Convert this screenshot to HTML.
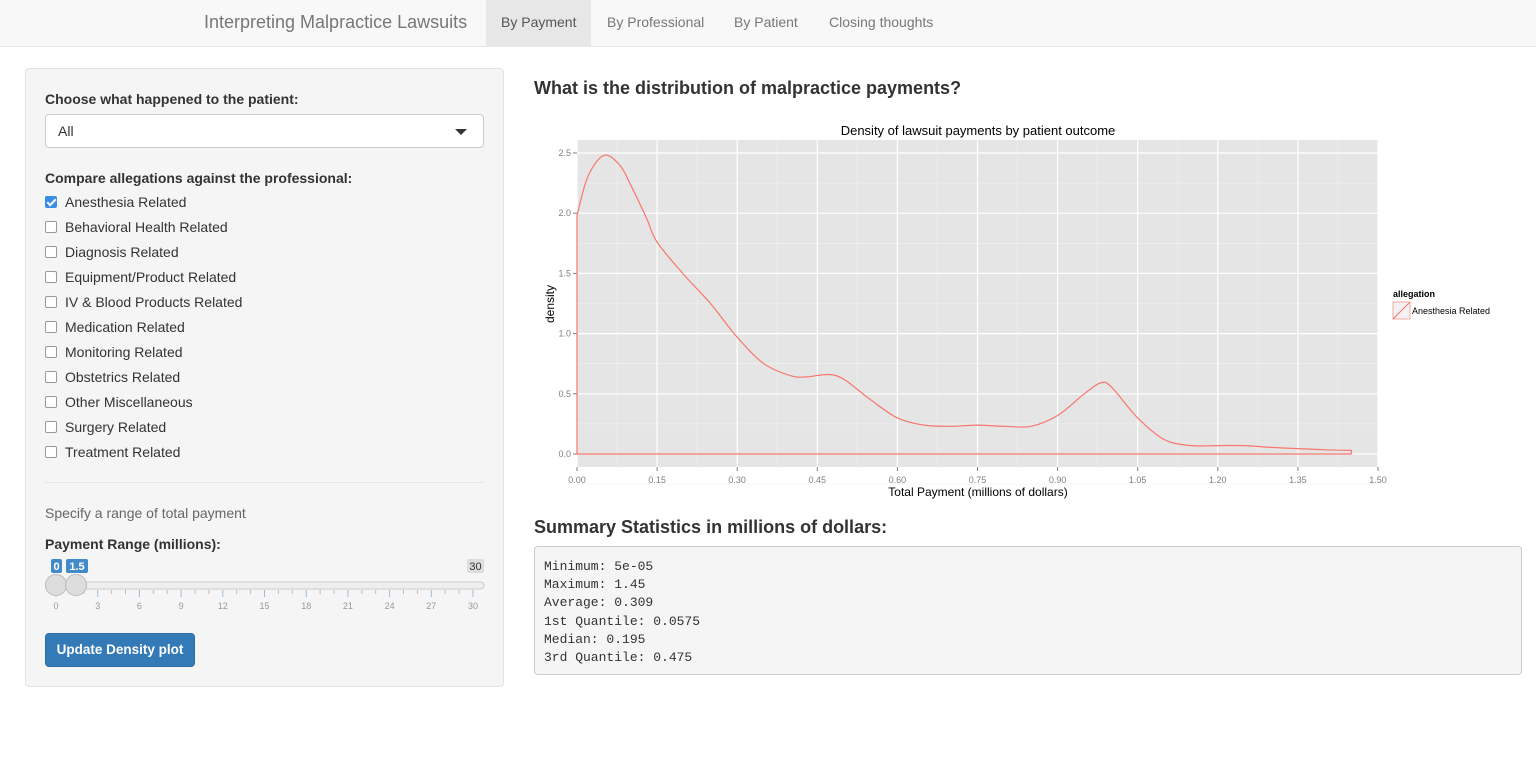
<!DOCTYPE html>
<html><head><meta charset="utf-8"><style>
*{box-sizing:border-box}
body{margin:0;width:1536px;height:779px;background:#fff;font-family:"Liberation Sans",sans-serif;color:#333;position:relative;overflow:hidden}
.nav{position:absolute;left:0;top:0;width:1536px;height:47px;background:#f8f8f8;border-bottom:1px solid #e7e7e7}
.nav .brand{position:absolute;left:204px;top:12px;font-size:18px;color:#777}
.nav .tab{position:absolute;top:0;height:47px;line-height:45px;font-size:14px;color:#777;padding:0 15px}
.nav .tab.active{background:#e7e7e7;color:#555}
.well{position:absolute;left:25px;top:68px;width:479px;height:619px;background:#f5f5f5;border:1px solid #e3e3e3;border-radius:4px}
.lbl{position:absolute;left:19px;font-size:14px;font-weight:bold;color:#333}
.sel{position:absolute;left:19px;top:45px;width:439px;height:34px;background:#fff;border:1px solid #ccc;border-radius:4px;font-size:14px;padding:8px 12px}
.sel:after{content:"";position:absolute;right:16px;top:14px;border-left:6px solid transparent;border-right:6px solid transparent;border-top:6px solid #333}
.cb{position:absolute;left:19px;font-size:14px;height:20px;line-height:20px}
.cb i{display:inline-block;width:12px;height:12px;border:1px solid #999;border-radius:2px;background:#fff;vertical-align:-1px;margin-right:8px}
.cb i.on{background:#3b8ee6;border-color:#3b8ee6;position:relative}
.cb i.on:after{content:"";position:absolute;left:3px;top:0px;width:3px;height:7px;border:solid #fff;border-width:0 2px 2px 0;transform:rotate(45deg)}
.btn{position:absolute;left:19px;top:564px;width:150px;height:34px;background:#337ab7;border:1px solid #2e6da4;border-radius:4px;color:#fff;font-size:13.5px;font-weight:bold;text-align:center;line-height:32px}
h4{position:absolute;margin:0;font-size:18px;font-weight:bold;color:#333}
pre{position:absolute;left:534px;top:546px;width:988px;height:129px;margin:0;background:#f5f5f5;border:1px solid #ccc;border-radius:4px;padding:11px 9px;font-family:"Liberation Mono",monospace;font-size:13px;line-height:18.2px;color:#333}
</style></head><body>
<div class="nav">
<span class="brand">Interpreting Malpractice Lawsuits</span>
<span class="tab active" style="left:486px">By Payment</span>
<span class="tab" style="left:592px">By Professional</span>
<span class="tab" style="left:719px">By Patient</span>
<span class="tab" style="left:814px">Closing thoughts</span>
</div>
<div class="well">
<div class="lbl" style="top:22px">Choose what happened to the patient:</div>
<div class="sel">All</div>
<div class="lbl" style="top:101px">Compare allegations against the professional:</div>
<div class="cb" style="top:123px"><i class="on"></i>Anesthesia Related</div>
<div class="cb" style="top:148px"><i></i>Behavioral Health Related</div>
<div class="cb" style="top:173px"><i></i>Diagnosis Related</div>
<div class="cb" style="top:198px"><i></i>Equipment/Product Related</div>
<div class="cb" style="top:223px"><i></i>IV &amp; Blood Products Related</div>
<div class="cb" style="top:248px"><i></i>Medication Related</div>
<div class="cb" style="top:273px"><i></i>Monitoring Related</div>
<div class="cb" style="top:298px"><i></i>Obstetrics Related</div>
<div class="cb" style="top:323px"><i></i>Other Miscellaneous</div>
<div class="cb" style="top:348px"><i></i>Surgery Related</div>
<div class="cb" style="top:373px"><i></i>Treatment Related</div>
<div style="position:absolute;left:19px;top:413px;width:439px;border-top:1px solid #e5e5e5"></div>
<div style="position:absolute;left:19px;top:436px;font-size:14px;color:#666">Specify a range of total payment</div>
<div class="lbl" style="top:467px">Payment Range (millions):</div>
<svg style="position:absolute;left:15px;top:485px" width="450" height="60">
<rect x="6" y="28" width="437" height="7" rx="3.5" fill="#eee" stroke="#ccc"/>
<g id="ticks"></g>
<rect x="10" y="5" width="11" height="14" rx="2" fill="#428bca"/><text x="15.5" y="16" font-size="11" font-weight="bold" fill="#fff" text-anchor="middle">0</text>
<rect x="25" y="5" width="22" height="14" rx="2" fill="#428bca"/><text x="36" y="16" font-size="11" font-weight="bold" fill="#fff" text-anchor="middle">1.5</text>
<rect x="426" y="5" width="17" height="14" rx="2" fill="#ddd"/><text x="434.5" y="16" font-size="11" fill="#333" text-anchor="middle">30</text>
<circle cx="15" cy="31" r="10.5" fill="#ddd" stroke="#bbb"/><circle cx="35" cy="31" r="10.5" fill="#ddd" stroke="#bbb"/>
</svg>
<div class="btn">Update Density plot</div>
</div>
<h4 style="left:534px;top:78px">What is the distribution of malpractice payments?</h4>
<svg style="position:absolute;left:0;top:0" width="1536" height="510" id="chart"></svg>
<h4 style="left:534px;top:517px">Summary Statistics in millions of dollars:</h4>
<pre>Minimum: 5e-05
Maximum: 1.45
Average: 0.309
1st Quantile: 0.0575
Median: 0.195
3rd Quantile: 0.475</pre>
<script>
const xTicks=[0,0.15,0.30,0.45,0.60,0.75,0.90,1.05,1.20,1.35,1.50];
const xTickLabels=["0.00","0.15","0.30","0.45","0.60","0.75","0.90","1.05","1.20","1.35","1.50"];
const yTicks=[0,0.5,1,1.5,2,2.5];
const yTickLabels=["0.0","0.5","1.0","1.5","2.0","2.5"];
const densX=[0,0.02,0.05,0.08,0.1,0.13,0.15,0.2,0.25,0.3,0.35,0.4,0.43,0.47,0.5,0.55,0.6,0.65,0.7,0.75,0.8,0.85,0.9,0.95,0.98,1.0,1.05,1.1,1.15,1.2,1.25,1.3,1.35,1.4,1.45];
const densY=[1.98,2.3,2.48,2.4,2.24,1.96,1.76,1.49,1.25,0.97,0.75,0.65,0.64,0.66,0.62,0.45,0.3,0.24,0.23,0.24,0.23,0.23,0.32,0.5,0.59,0.56,0.3,0.12,0.07,0.07,0.07,0.055,0.045,0.035,0.03];
const NS="http://www.w3.org/2000/svg";
const svg=document.getElementById('chart');
const L=577,R=1378,T=140,B=467;
const sx=v=>L+v/1.5*(R-L);
const sy=v=>454-v*120.4;
function mk(t,a,p){const e=document.createElementNS(NS,t);for(const k in a)e.setAttribute(k,a[k]);(p||svg).appendChild(e);return e;}
const bg=mk('rect',{x:L,y:T,width:R-L,height:B-T,fill:'#e5e5e5'});


for(let i=0;i<xTicks.length-1;i++){const m=(xTicks[i]+xTicks[i+1])/2;mk('line',{x1:sx(m),x2:sx(m),y1:T,y2:B,stroke:'#f2f2f2','stroke-width':0.6});}
for(let i=0;i<yTicks.length;i++){const m=yTicks[i]+0.25;if(sy(m)>T)mk('line',{x1:L,x2:R,y1:sy(m),y2:sy(m),stroke:'#f2f2f2','stroke-width':0.6});}
mk('line',{x1:L,x2:R,y1:sy(-0.25),y2:sy(-0.25),stroke:'#f2f2f2','stroke-width':0.6});
xTicks.forEach((v,i)=>{mk('line',{x1:sx(v),x2:sx(v),y1:T,y2:B,stroke:'#fff','stroke-width':1.2});mk('line',{x1:sx(v),x2:sx(v),y1:B,y2:B+4,stroke:'#7f7f7f'});
const t=mk('text',{x:sx(v),y:B+16,'font-size':9,fill:'#7f7f7f','text-anchor':'middle'});t.textContent=xTickLabels[i];

});
yTicks.forEach((v,i)=>{mk('line',{x1:L,x2:R,y1:sy(v),y2:sy(v),stroke:'#fff','stroke-width':1.2});mk('line',{x1:L-4,x2:L,y1:sy(v),y2:sy(v),stroke:'#7f7f7f'});
const t=mk('text',{x:L-6,y:sy(v)+3,'font-size':9,fill:'#7f7f7f','text-anchor':'end'});t.textContent=yTickLabels[i];

});
// smooth curve via Catmull-Rom
const pts=densX.map((v,i)=>[sx(v),sy(densY[i])]);
let d='M'+sx(0)+','+sy(0)+' L'+pts[0][0]+','+pts[0][1].toFixed(1);
for(let i=0;i<pts.length-1;i++){
 const p0=pts[Math.max(0,i-1)],p1=pts[i],p2=pts[i+1],p3=pts[Math.min(pts.length-1,i+2)];
 const c1=[p1[0]+(p2[0]-p0[0])/6,p1[1]+(p2[1]-p0[1])/6];
 const c2=[p2[0]-(p3[0]-p1[0])/6,p2[1]-(p3[1]-p1[1])/6];
 d+=' C'+c1[0].toFixed(1)+','+c1[1].toFixed(1)+' '+c2[0].toFixed(1)+','+c2[1].toFixed(1)+' '+p2[0].toFixed(1)+','+p2[1].toFixed(1);
}
d+=' L'+sx(densX[densX.length-1])+','+sy(0)+' Z';
const p=mk('path',{d:d,fill:'none',stroke:'#f8766d','stroke-width':1.2,'stroke-linejoin':'round'});


const title=mk('text',{x:978,y:135,'font-size':13,fill:'#000','text-anchor':'middle'});title.textContent='Density of lawsuit payments by patient outcome';


const xt=mk('text',{x:978,y:496,'font-size':12,fill:'#000','text-anchor':'middle'});xt.textContent='Total Payment (millions of dollars)';


const yt=mk('text',{x:554,y:304,'font-size':12,fill:'#000','text-anchor':'middle',transform:'rotate(-90 554 304)'});yt.textContent='density';


const lg=mk('g',{});


const lt=mk('text',{x:1393,y:297,'font-size':9,'font-weight':'bold',fill:'#000'},lg);lt.textContent='allegation';
mk('rect',{x:1393,y:302,width:17,height:17,fill:'#f2f2f2',stroke:'#f8a8a2'},lg);
mk('line',{x1:1393,y1:319,x2:1410,y2:302,stroke:'#f8766d'},lg);
const le=mk('text',{x:1412,y:314,'font-size':9,fill:'#000'},lg);le.textContent='Anesthesia Related';


// slider ticks
const tk=document.getElementById('ticks');
for(let i=0;i<=30;i++){const x=15+i*(417/30);const major=i%3==0;mk('line',{x1:x,x2:x,y1:36,y2:major?43:40,stroke:major?'#9dbbd8':'#bbb'},tk);
if(major){const t=mk('text',{x:x,y:55,'font-size':9,fill:'#999','text-anchor':'middle'},tk);t.textContent=String(i);}}
</script>
</body></html>
